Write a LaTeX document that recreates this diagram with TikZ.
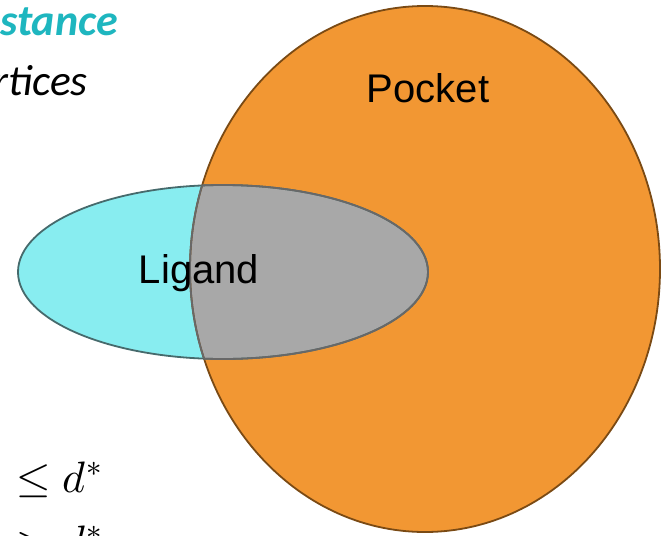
\documentclass[tikz,border=0pt]{standalone}
\usepackage{fontspec}
\setmainfont{Liberation Sans}
\newfontfamily\slidefont{Carlito}
\usepackage{amsmath}
\usepackage{unicode-math}
\setmathfont{Latin Modern Math}
\definecolor{pocketfill}{HTML}{F29733}
\definecolor{pocketline}{HTML}{7A4A14}
\definecolor{ligandfill}{HTML}{88EDF0}
\definecolor{ligandline}{HTML}{466A6C}
\definecolor{overlapfill}{HTML}{A8A8A8}
\definecolor{overlapline}{HTML}{686868}
\definecolor{teal}{HTML}{1EB6BF}
\tikzset{
  shapelbl/.style={font=\fontsize{40}{40}\selectfont, inner sep=0pt},
  slidetxt/.style={font=\slidefont\fontsize{43.5}{43.5}\selectfont\itshape, inner sep=0pt, anchor=base east},
  mathtxt/.style={font=\fontsize{44}{44}\selectfont, inner sep=0pt, anchor=base west},
}
\begin{document}
\begin{tikzpicture}[x=1pt,y=-1pt]
  \useasboundingbox (0,0) rectangle (662,536);
  \clip (0,0) rectangle (662,536);
  \def\pocket{(425,269) ellipse [x radius=235, y radius=263]}
  \def\ligand{(223,272) ellipse [x radius=205, y radius=87]}
  % fills
  \fill[pocketfill] \pocket;
  \fill[ligandfill] \ligand;
  \begin{scope}
    \clip \pocket;
    \fill[overlapfill] \ligand;
  \end{scope}
  % outlines
  \draw[pocketline, line width=1.8pt] \pocket;
  \draw[ligandline, line width=1.8pt] \ligand;
  \begin{scope}
    \clip \pocket;
    \draw[overlapline, line width=1.8pt] \ligand;
  \end{scope}
  \begin{scope}
    \clip \ligand;
    \draw[overlapline, line width=1.8pt] \pocket;
  \end{scope}
  % labels
  \node[shapelbl] (pocketlbl) at (428,88) {Pocket};
  \node[shapelbl] (ligandlbl) at (199,273) {Ligand};
  % text on the left
  \node[slidetxt, font=\slidefont\fontsize{44}{44}\selectfont\bfseries\itshape, text=teal] (dist) at (118,35) {stance};
  \node[slidetxt] (vert) at (88,95) {rtices};
  \node[mathtxt] (le) at (16,492) {$\leq d^*$};
  \node[mathtxt] (gt) at (16,556) {$> d^*$};
\end{tikzpicture}
\end{document}
